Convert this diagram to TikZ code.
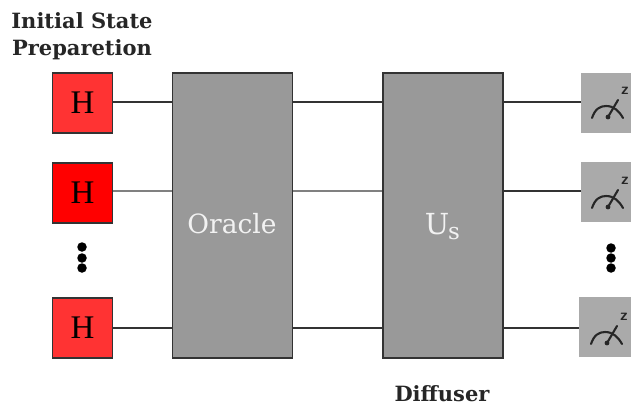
\documentclass[tikz,border=0pt]{standalone}
\usepackage{fontspec}
\setmainfont{DejaVu Serif}
\newfontfamily\lib{Liberation Serif}
\usetikzlibrary{calc}
\definecolor{redA}{HTML}{FF3333}
\definecolor{redB}{HTML}{FF0000}
\definecolor{boxgray}{HTML}{999999}
\definecolor{metergray}{HTML}{AAAAAA}
\definecolor{edge}{HTML}{333333}
\tikzset{
 x=1pt,y=-1pt,
 hgate/.style={draw=edge,line width=1.2pt,minimum width=60pt,minimum height=60pt,inner sep=0pt,font=\lib\fontsize{33}{33}\selectfont,text=black},
 bigbox/.style={draw=edge,line width=1.2pt,fill=boxgray,minimum width=120pt,minimum height=285pt,inner sep=0pt},
 meterbox/.style={fill=metergray,minimum height=60pt,inner sep=0pt},
 wire/.style={draw=edge,line width=1.3pt},
 wiregray/.style={draw=black!50,line width=2pt},
 title/.style={font=\bfseries\fontsize{21}{21}\selectfont,text=black!85,inner sep=0pt},
 vdot/.style={circle,fill=black,minimum size=9.5pt,inner sep=0pt},
 boxtext/.style={text=white!95!black,inner sep=0pt},
}
\newcommand{\meterglyph}[1]{%
 \draw[line width=2.1pt,line cap=round,black!85] ($(#1)+(-14,13)$) .. controls ($(#1)+(-11,4)$) and ($(#1)+(-6,1)$) .. ($(#1)+(0,1)$) .. controls ($(#1)+(8,1)$) and ($(#1)+(13,6)$) .. ($(#1)+(17,13)$);
 \draw[line width=2.1pt,line cap=round,black!85] ($(#1)+(2,12)$) -- ($(#1)+(12,-5)$);
 \fill[black!85] ($(#1)+(2,12)$) circle (2.4pt);
 \node[inner sep=0pt,font=\sffamily\bfseries\fontsize{16}{16}\selectfont,text=black!85] at ($(#1)+(19,-14)$) {z};
}
\begin{document}
\begin{tikzpicture}
\useasboundingbox (0,0) rectangle (631,404);
\node[hgate,fill=redA] (h1) at (82.5,103) {H};
\node[hgate,fill=redB] (h2) at (82.5,193) {H};
\node[hgate,fill=redA] (h3) at (82.5,328) {H};
\node[bigbox] (oracle) at (232.5,215.5) {};
\node[bigbox] (us) at (443,215.5) {};
\node[boxtext,font=\fontsize{26.5}{27}\selectfont] (otext) at (232,224) {Oracle};
\node[boxtext,font=\fontsize{29}{29}\selectfont] (utext) at (437,224) {U};
\node[boxtext,font=\fontsize{23}{23}\selectfont] (stext) at (454,234) {s};
\node[meterbox,minimum width=50pt] (m1) at (606,102.5) {};
\node[meterbox,minimum width=50pt] (m2) at (606,192) {};
\node[meterbox,minimum width=52pt] (m3) at (605,327) {};
\draw[wire] (h1.east |- 0,102) -- (oracle.west |- 0,102);
\draw[wiregray] (h2.east |- 0,191) -- (oracle.west |- 0,191);
\draw[wire] (h3.east |- 0,328) -- (oracle.west |- 0,328);
\draw[wire] (oracle.east |- 0,102) -- (us.west |- 0,102);
\draw[wiregray] (oracle.east |- 0,191) -- (us.west |- 0,191);
\draw[wire] (oracle.east |- 0,328) -- (us.west |- 0,328);
\draw[wire] (us.east |- 0,102) -- (m1.west |- 0,102);
\draw[wire] (us.east |- 0,191) -- (m2.west |- 0,191);
\draw[wire] (us.east |- 0,328) -- (m3.west |- 0,328);
\meterglyph{606,105}
\meterglyph{606,195}
\meterglyph{605,331}
\node[vdot] (d1) at (82,247) {};
\node[vdot] (d2) at (82,258) {};
\node[vdot] (d3) at (82,268) {};
\node[vdot] (d4) at (611,248) {};
\node[vdot] (d5) at (611,258) {};
\node[vdot] (d6) at (611,268) {};
\node[title] (t1) at (82,21) {Initial State};
\node[title] (t2) at (82,50) {Preparetion};
\node[title,anchor=base] (t3) at (442,401) {Diffuser};
\end{tikzpicture}
\end{document}
